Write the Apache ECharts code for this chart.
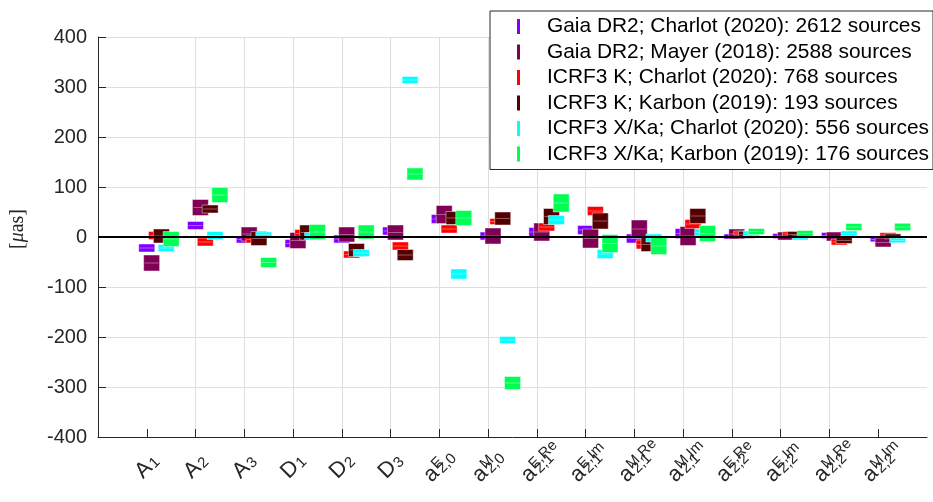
<!DOCTYPE html>
<html>
<head>
<meta charset="utf-8">
<script src="https://cdn.jsdelivr.net/npm/echarts@6/dist/echarts.min.js"></script>
<style>
  html, body { margin: 0; padding: 0; background: #fff; }
  #main { width: 933px; height: 502px; }
</style>
</head>
<body>
<div id="main"></div>
<script>
// tick labels: base letter, subscript, superscript
const labelBase = ['A', 'A', 'A', 'D', 'D', 'D', 'a', 'a', 'a', 'a', 'a', 'a', 'a', 'a', 'a', 'a'];
const labelSub = ['1', '2', '3', '1', '2', '3', '2,0', '2,0', '2,1', '2,1', '2,1', '2,1', '2,2', '2,2', '2,2', '2,2'];
const labelSup = ['', '', '', '', '', '', 'E', 'M', 'E,Re', 'E,Im', 'M,Re', 'M,Im', 'E,Re', 'E,Im', 'M,Re', 'M,Im'];

const seriesNames = [
  'Gaia DR2; Charlot (2020): 2612 sources',
  'Gaia DR2; Mayer (2018): 2588 sources',
  'ICRF3 K; Charlot (2020): 768 sources',
  'ICRF3 K; Karbon (2019): 193 sources',
  'ICRF3 X/Ka; Charlot (2020): 556 sources',
  'ICRF3 X/Ka; Karbon (2019): 176 sources'
];
const colors = ['#8000ff', '#800055', '#ff0000', '#550000', '#00ffff', '#00ff55'];

// values and 1-sigma errors [µas], one entry per tick label
const gaiaCharlot = [-22, 23, -5, -13, -4, 12, 36, 2, 10, 14, -3, 7, 1, 2, 3, -5];
const gaiaCharlotErr = [8, 8, 7, 8, 8, 8, 9, 8, 9, 9, 9, 10, 5, 5, 6, 4.6];
const gaiaMayer = [-52, 59, 6, -7, 5, 9, 45, 2, 10, -3, 16, 2, 6, 2, 1, -11];
const gaiaMayerErr = [16, 16, 14, 16, 15, 15, 18, 16, 18, 19, 18, 19, 10, 8, 9, 9];
const kCharlot = [3, -10, -5, 7, -35, -18, 16, 31, 20, 52, -15, 26, 8, 6, -10, 4];
const kCharlotErr = [8, 8, 7, 8, 7, 8, 8, 6, 8, 9, 9, 9, 4, 4.6, 6, 4.6];
const kKarbon = [2, 56, -3, 9, -26, -36, 38, 37, 41, 32, -15, 42, 4.5, 5, -7, 1.3];
const kKarbonErr = [14, 8, 14, 15, 13, 11, 13, 13, 16, 16, 14, 15, 7, 6, 6, 5];
const xkaCharlot = [-22, 3, 5, 2, -32, 314, -74, -206, 34, -34, -2, 9, 7, -2, 7, -7];
const xkaCharlotErr = [7, 8, 5, 7, 7, 7, 10, 7, 9, 9, 8, 7, 5, 4, 5, 4.6];
const xkaKarbon = [-4, 84, -51, 10, 10, 126, 38, -292, 68, -13, -18, 7, 11, 7, 20, 20];
const xkaKarbonErr = [15, 15, 10, 15, 14, 12, 15, 13, 18, 18, 17, 16, 6, 6, 7, 7.4];

const yTicks = [-400, -300, -200, -100, 0, 100, 200, 300, 400];

const allValues = [gaiaCharlot, gaiaMayer, kCharlot, kKarbon, xkaCharlot, xkaKarbon];
const allErrors = [gaiaCharlotErr, gaiaMayerErr, kCharlotErr, kKarbonErr, xkaCharlotErr, xkaKarbonErr];

const chart = echarts.init(document.getElementById('main'));
const FONT = 'Liberation Sans';
const INK = '#262626';

function renderBox(params, api) {
  const x = api.value(0), v = api.value(1), e = api.value(2);
  const top = api.coord([x, v + e]);
  const bot = api.coord([x, v - e]);
  const mid = api.coord([x, v]);
  const w = 16;
  return {
    type: 'group',
    children: [
      {
        type: 'rect',
        shape: { x: top[0] - w / 2, y: top[1], width: w, height: bot[1] - top[1] },
        style: { fill: api.visual('color'), stroke: 'rgba(255,255,255,0.45)', lineWidth: 1 }
      },
      {
        type: 'line',
        shape: { x1: mid[0] - w / 2 + 1, y1: mid[1], x2: mid[0] + w / 2 - 1, y2: mid[1] },
        style: { stroke: 'rgba(255,255,255,0.35)', lineWidth: 1 }
      }
    ]
  };
}

const series = allValues.map((vals, s) => ({
  name: seriesNames[s],
  type: 'custom',
  renderItem: renderBox,
  itemStyle: { color: colors[s] },
  encode: { x: 0, y: 1 },
  data: vals.map((v, i) => [i + 1 + s * 0.1, v, allErrors[s][i]]),
  z: 2 + s
}));

series.push({
  name: 'zero',
  type: 'line',
  data: [[0, 0], [17, 0]],
  symbol: 'none',
  silent: true,
  lineStyle: { color: '#000', width: 2 },
  z: 20
});

const ticksX = labelBase.map((b, i) => i + 1);

const option = {
  animation: false,
  backgroundColor: '#fff',
  textStyle: { fontFamily: FONT },
  grid: { left: 94, right: 6, top: 37, bottom: 65, containLabel: false },
  legend: {
    data: seriesNames,
    orient: 'vertical',
    left: 490,
    top: 11,
    icon: 'rect',
    itemWidth: 3,
    itemHeight: 15,
    itemGap: 4.5,
    padding: [5, 4, 5, 27],
    backgroundColor: '#fff',
    borderColor: INK,
    borderWidth: 1,
    borderRadius: 0,
    textStyle: { fontFamily: FONT, fontSize: 20.9, color: '#000', lineHeight: 21, padding: [0, 0, 0, 22] },
    z: 30
  },
  xAxis: {
    type: 'value',
    min: 0,
    max: 17,
    interval: 1,
    axisLine: { onZero: false, lineStyle: { color: INK, width: 1 } },
    axisTick: { inside: true, length: 8, customValues: ticksX, lineStyle: { color: INK } },
    splitLine: { show: true, showMinLine: false, showMaxLine: false, lineStyle: { color: '#dedede', width: 1 } },
    axisLabel: {
      customValues: ticksX,
      showMinLabel: true,
      showMaxLabel: true,
      rotate: 45,
      align: 'center',
      verticalAlign: 'middle',
      margin: 29,
      formatter: function (val) {
        const i = Math.round(val) - 1;
        if (i < 0 || i >= labelBase.length) return '';
        let s = '{b|' + labelBase[i] + '}';
        if (labelSup[i]) s += '{p|' + labelSup[i] + '}';
        s += '{s|' + labelSub[i] + '}';
        return s;
      },
      rich: {
        b: { fontFamily: FONT, fontSize: 22, lineHeight: 22, padding: [6, 0, 5, 0], color: INK, align: 'left', verticalAlign: 'middle' },
        s: { fontFamily: FONT, fontSize: 15, lineHeight: 15, padding: [0, 0, 0, 1], color: INK, align: 'left', verticalAlign: 'bottom' },
        p: { fontFamily: FONT, fontSize: 15, lineHeight: 15, padding: [0, 0, 0, 1], width: 0, color: INK, align: 'left', verticalAlign: 'top' }
      }
    }
  },
  yAxis: {
    type: 'value',
    min: yTicks[0],
    max: yTicks[yTicks.length - 1],
    interval: 100,
    name: '{t|[}{i|μ}{t|as]}',
    nameLocation: 'middle',
    nameGap: 70,
    nameTextStyle: {
      padding: [0, 0, 0, 16],
      rich: {
        t: { fontFamily: 'Liberation Serif', fontSize: 20, color: INK },
        i: { fontFamily: 'Liberation Serif', fontSize: 20, fontStyle: 'italic', color: INK }
      }
    },
    axisLine: { show: true, lineStyle: { color: INK, width: 1 } },
    axisTick: { inside: true, length: 8, lineStyle: { color: INK } },
    splitLine: { show: true, lineStyle: { color: '#dedede', width: 1 } },
    axisLabel: { fontFamily: FONT, fontSize: 20, color: INK, margin: 11 }
  },
  series: series
};

chart.setOption(option);
</script>
</body>
</html>
